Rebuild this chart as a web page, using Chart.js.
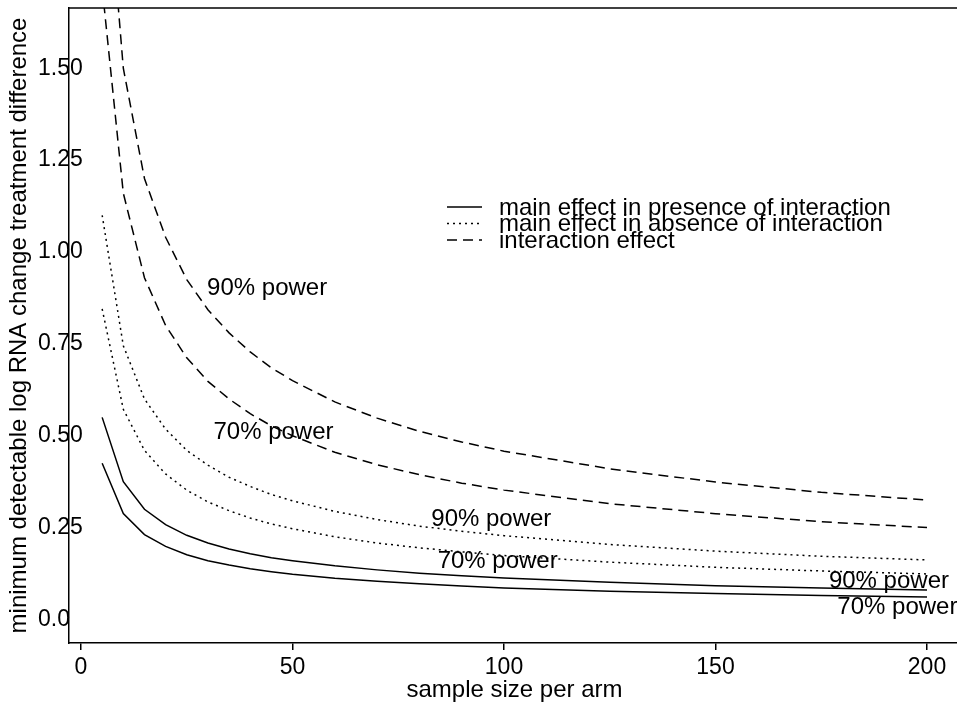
<!DOCTYPE html>
<html>
<head>
<meta charset="utf-8">
<script src="https://cdn.jsdelivr.net/npm/chart.js@4.4.0/dist/chart.umd.min.js"></script>
<style>
  html, body { margin: 0; padding: 0; background: #fff; overflow: hidden; }
  #wrap { width: 962px; height: 710px; }
</style>
</head>
<body>
<div id="wrap"><canvas id="myChart" width="962" height="710"></canvas></div>
<script>
// sample size per arm
const sampleSizes = [5, 10, 15, 20, 25, 30, 35, 40, 45, 50, 60, 70, 80, 90, 100, 125, 150, 175, 200];

// minimum detectable difference
const mainPresence90 = [0.55, 0.375, 0.300, 0.258, 0.229, 0.208, 0.192, 0.179, 0.168, 0.160, 0.146, 0.135, 0.126, 0.119, 0.113, 0.101, 0.092, 0.086, 0.080];
const mainPresence70 = [0.425, 0.288, 0.231, 0.199, 0.176, 0.160, 0.148, 0.138, 0.130, 0.123, 0.112, 0.104, 0.097, 0.091, 0.086, 0.077, 0.071, 0.065, 0.061];
const mainAbsence90 = [1.10, 0.745, 0.600, 0.518, 0.460, 0.420, 0.387, 0.362, 0.340, 0.323, 0.294, 0.272, 0.254, 0.240, 0.228, 0.204, 0.186, 0.172, 0.162];
const mainAbsence70 = [0.845, 0.572, 0.460, 0.396, 0.352, 0.320, 0.296, 0.276, 0.260, 0.247, 0.225, 0.208, 0.195, 0.184, 0.174, 0.156, 0.142, 0.132, 0.124];
const interaction90 = [2.20, 1.50, 1.20, 1.040, 0.925, 0.843, 0.780, 0.728, 0.685, 0.650, 0.592, 0.548, 0.512, 0.483, 0.458, 0.410, 0.374, 0.346, 0.325];
const interaction70 = [1.72, 1.16, 0.93, 0.800, 0.712, 0.648, 0.600, 0.560, 0.527, 0.500, 0.455, 0.421, 0.394, 0.371, 0.352, 0.315, 0.288, 0.266, 0.250];

const seriesNames = [
  "main effect in presence of interaction",
  "main effect in absence of interaction",
  "interaction effect"
];

const xTicks = [0, 50, 100, 150, 200];
const yTicks = [0, 0.25, 0.5, 0.75, 1, 1.25, 1.5];
const yTickLabels = ["0.0", "0.25", "0.50", "0.75", "1.00", "1.25", "1.50"];

// curve labels
const powerText = ["90% power", "70% power", "90% power", "70% power", "90% power", "70% power"];
const powerX = [44, 45.5, 97, 98.5, 191, 193];
const powerY = [0.9, 0.51, 0.273, 0.159, 0.103, 0.032];

const FONT_FAMILY = "'Liberation Sans', Arial, Helvetica, sans-serif";
const FONT_SIZE = 24;
const TICK_SIZE = 23;

Chart.defaults.font.family = FONT_FAMILY;
Chart.defaults.font.size = FONT_SIZE;
Chart.defaults.color = "#000";

function toPoints(values) {
  return values.map((v, i) => ({ x: sampleSizes[i], y: v }));
}

function lineSet(label, values, dash) {
  return {
    label: label,
    data: toPoints(values),
    borderColor: "#000",
    borderWidth: 1.5,
    borderDash: dash,
    pointRadius: 0,
    tension: 0,
    fill: false
  };
}

const DOTTED = [2, 4];
const DASHED = [10, 6];

const datasets = [
  lineSet(seriesNames[0], mainPresence90, []),
  lineSet(seriesNames[0], mainPresence70, []),
  lineSet(seriesNames[1], mainAbsence90, DOTTED),
  lineSet(seriesNames[1], mainAbsence70, DOTTED),
  lineSet(seriesNames[2], interaction90, DASHED),
  lineSet(seriesNames[2], interaction70, DASHED)
];

// top edge of the box, curve labels and the legend
const extras = {
  id: "extras",
  afterDatasetsDraw(chart) {
    const { ctx, chartArea, scales } = chart;
    ctx.save();
    ctx.strokeStyle = "#000";
    ctx.lineWidth = 1.5;
    ctx.beginPath();
    ctx.moveTo(chartArea.left, chartArea.top);
    ctx.lineTo(chartArea.right, chartArea.top);
    ctx.stroke();

    ctx.font = FONT_SIZE + "px " + FONT_FAMILY;
    ctx.fillStyle = "#000";
    ctx.textAlign = "center";
    ctx.textBaseline = "middle";
    powerText.forEach((t, i) => {
      ctx.fillText(t, scales.x.getPixelForValue(powerX[i]), scales.y.getPixelForValue(powerY[i]));
    });

    // legend
    const rows = [207, 223.5, 240];
    [0, 2, 4].forEach((d, i) => {
      const ds = chart.data.datasets[d];
      ctx.setLineDash(ds.borderDash);
      ctx.lineWidth = 1.5;
      ctx.beginPath();
      ctx.moveTo(447, rows[i]);
      ctx.lineTo(482, rows[i]);
      ctx.stroke();
      ctx.setLineDash([]);
      ctx.textAlign = "left";
      ctx.fillText(ds.label, 499, rows[i] + 1);
    });
    ctx.restore();
  }
};

const ctx = document.getElementById("myChart");
new Chart(ctx, {
  type: "line",
  data: { datasets: datasets },
  options: {
    responsive: false,
    animation: false,
    devicePixelRatio: 1,
    layout: { padding: { top: 8, right: 2, left: 0, bottom: 0 } },
    plugins: {
      legend: { display: false },
      tooltip: { enabled: false }
    },
    scales: {
      x: {
        type: "linear",
        min: -2.84,
        max: 207.8,
        afterBuildTicks: (axis) => { axis.ticks = xTicks.map((v) => ({ value: v })); },
        afterFit: (axis) => { axis.height = 67; },
        grid: { display: true, drawOnChartArea: false, drawTicks: true, tickLength: 7, color: "#000", lineWidth: 1.5 },
        border: { display: true, color: "#000", width: 1.5 },
        ticks: { padding: 4, maxRotation: 0, autoSkip: false, font: { size: TICK_SIZE } },
        title: { display: true, text: "sample size per arm", padding: { top: 0, bottom: 5 } }
      },
      y: {
        type: "linear",
        position: "left",
        weight: 0,
        min: -0.064,
        max: 1.664,
        afterBuildTicks: (axis) => { axis.ticks = yTicks.map((v) => ({ value: v })); },
        afterFit: (axis) => { axis.width = 31; },
        grid: { display: false, drawTicks: false },
        border: { display: true, color: "#000", width: 1.5 },
        ticks: {
          mirror: true,
          crossAlign: "near",
          padding: -31,
          autoSkip: false,
          font: { size: TICK_SIZE },
          callback: (value) => yTickLabels[yTicks.indexOf(value)]
        }
      },
      yTitle: {
        type: "linear",
        position: "left",
        weight: 1,
        afterFit: (axis) => { axis.width = 38; },
        grid: { display: false, drawTicks: false },
        border: { display: false },
        ticks: { display: false },
        title: {
          display: true,
          text: "minimum detectable log RNA change treatment difference",
          padding: { top: 5, bottom: 0 }
        }
      }
    }
  },
  plugins: [extras]
});
</script>
</body>
</html>
